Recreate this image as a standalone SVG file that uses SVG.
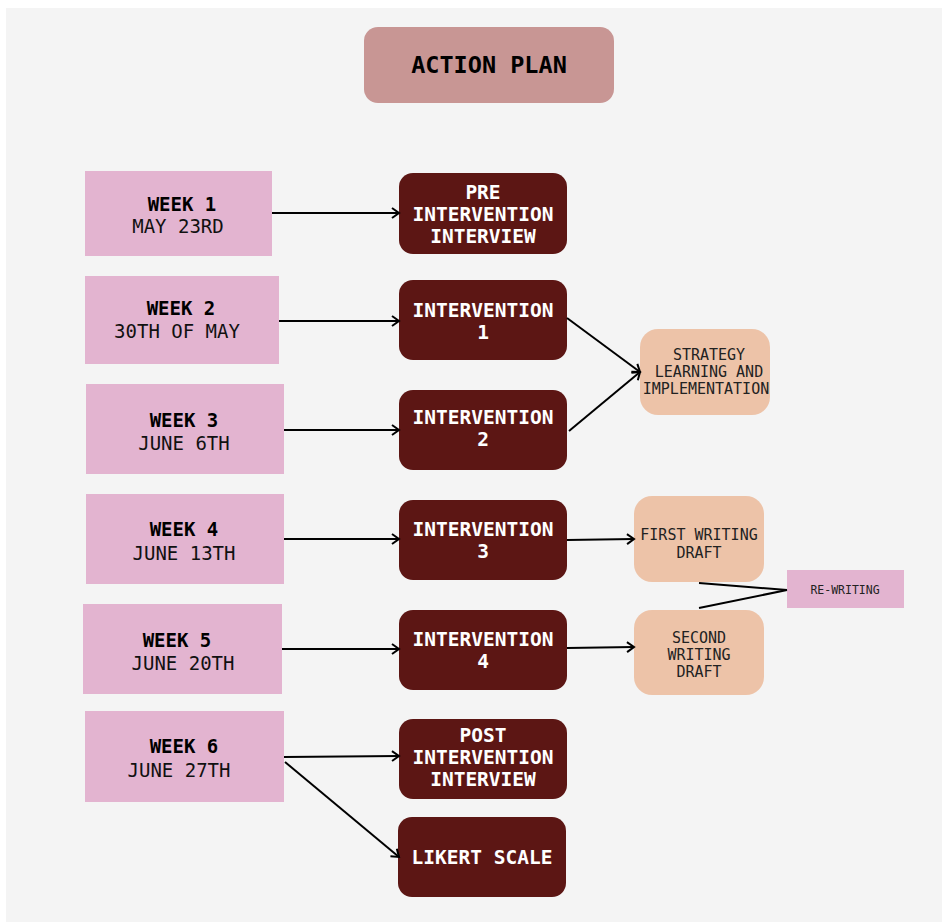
<svg xmlns="http://www.w3.org/2000/svg" width="942" height="922" viewBox="0 0 942 922">
<style>
text{font-family:"DejaVu Sans Mono","Liberation Mono",monospace;text-anchor:middle}
.week{fill:#e3b4d0}
.dark{fill:#5c1614}
.peach{fill:#edc3a8}
.wk{font-size:19px;font-weight:bold;fill:#000}
.dt{font-size:19px;fill:#111}
.wt{font-size:19.5px;font-weight:bold;fill:#fff}
.pt{font-size:15px;fill:#222}
.conn line{stroke:#000;stroke-width:2}
.arr{marker-end:url(#ah)}
</style>
<defs>
<marker id="ah" markerUnits="userSpaceOnUse" markerWidth="12" markerHeight="12" refX="9" refY="6" orient="auto">
<path d="M2,1 L9,6 L2,11" fill="none" stroke="#000" stroke-width="2"/>
</marker>
</defs>
<rect x="0" y="0" width="942" height="922" fill="#fff"/>
<rect x="6" y="8" width="936" height="914" fill="#f4f4f4"/>

<g id="title">
<rect x="364" y="27" width="250" height="76" rx="14" fill="#c89694"/>
<text x="489" y="73" style="font-size:23.5px;font-weight:bold;fill:#000">ACTION PLAN</text>
</g>

<g id="week1"><rect class="week" x="85" y="171" width="187" height="85"/>
<text class="wk" x="182" y="211">WEEK 1</text><text class="dt" x="178" y="233">MAY 23RD</text></g>
<g id="week2"><rect class="week" x="85" y="276" width="194" height="88"/>
<text class="wk" x="181" y="315">WEEK 2</text><text class="dt" x="177" y="338">30TH OF MAY</text></g>
<g id="week3"><rect class="week" x="86" y="384" width="198" height="90"/>
<text class="wk" x="184" y="427">WEEK 3</text><text class="dt" x="184" y="450">JUNE 6TH</text></g>
<g id="week4"><rect class="week" x="86" y="494" width="198" height="90"/>
<text class="wk" x="184" y="536">WEEK 4</text><text class="dt" x="184" y="560">JUNE 13TH</text></g>
<g id="week5"><rect class="week" x="83" y="604" width="199" height="90"/>
<text class="wk" x="177" y="647">WEEK 5</text><text class="dt" x="183" y="670">JUNE 20TH</text></g>
<g id="week6"><rect class="week" x="85" y="711" width="199" height="91"/>
<text class="wk" x="184" y="753">WEEK 6</text><text class="dt" x="179" y="777">JUNE 27TH</text></g>

<g id="pre"><rect class="dark" x="399" y="173" width="168" height="81" rx="14"/>
<text class="wt" x="483" y="199">PRE</text><text class="wt" x="483" y="221">INTERVENTION</text><text class="wt" x="483" y="243">INTERVIEW</text></g>
<g id="int1"><rect class="dark" x="399" y="280" width="168" height="80" rx="14"/>
<text class="wt" x="483" y="317">INTERVENTION</text><text class="wt" x="483" y="339">1</text></g>
<g id="int2"><rect class="dark" x="399" y="390" width="168" height="80" rx="14"/>
<text class="wt" x="483" y="424">INTERVENTION</text><text class="wt" x="483" y="446">2</text></g>
<g id="int3"><rect class="dark" x="399" y="500" width="168" height="80" rx="14"/>
<text class="wt" x="483" y="536">INTERVENTION</text><text class="wt" x="483" y="558">3</text></g>
<g id="int4"><rect class="dark" x="399" y="610" width="168" height="80" rx="14"/>
<text class="wt" x="483" y="646">INTERVENTION</text><text class="wt" x="483" y="668">4</text></g>
<g id="post"><rect class="dark" x="399" y="719" width="168" height="80" rx="14"/>
<text class="wt" x="483" y="742">POST</text><text class="wt" x="483" y="764">INTERVENTION</text><text class="wt" x="483" y="786">INTERVIEW</text></g>
<g id="likert"><rect class="dark" x="398" y="817" width="168" height="80" rx="14"/>
<text class="wt" x="482" y="864">LIKERT SCALE</text></g>

<g id="strategy"><rect class="peach" x="640" y="329" width="130" height="86" rx="18"/>
<text class="pt" x="709" y="360">STRATEGY</text><text class="pt" x="709" y="377">LEARNING AND</text><text class="pt" x="706" y="394">IMPLEMENTATION</text></g>
<g id="first"><rect class="peach" x="634" y="496" width="130" height="86" rx="18"/>
<text class="pt" x="699" y="540">FIRST WRITING</text><text class="pt" x="699" y="558">DRAFT</text></g>
<g id="second"><rect class="peach" x="634" y="610" width="130" height="85" rx="18"/>
<text class="pt" x="699" y="643">SECOND</text><text class="pt" x="699" y="660">WRITING</text><text class="pt" x="699" y="677">DRAFT</text></g>
<g id="rewriting"><rect class="week" x="787" y="570" width="117" height="38"/>
<text x="845" y="594" style="font-size:11.5px;fill:#222">RE-WRITING</text></g>

<g id="connectors" class="conn">
<line class="arr" x1="272" y1="213" x2="399" y2="213"/>
<line class="arr" x1="279" y1="321" x2="399" y2="321"/>
<line class="arr" x1="284" y1="430" x2="399" y2="430"/>
<line class="arr" x1="284" y1="539" x2="399" y2="539"/>
<line class="arr" x1="282" y1="649" x2="399" y2="649"/>
<line class="arr" x1="284" y1="757" x2="399" y2="756"/>
<line class="arr" x1="285" y1="762" x2="399" y2="857"/>
<line class="arr" x1="567" y1="318" x2="640" y2="372"/>
<line class="arr" x1="569" y1="431" x2="640" y2="372"/>
<line class="arr" x1="567" y1="540" x2="634" y2="539"/>
<line class="arr" x1="567" y1="648" x2="634" y2="647"/>
<line x1="699" y1="583" x2="787" y2="590"/>
<line x1="699" y1="608" x2="787" y2="590"/>
</g>
</svg>
